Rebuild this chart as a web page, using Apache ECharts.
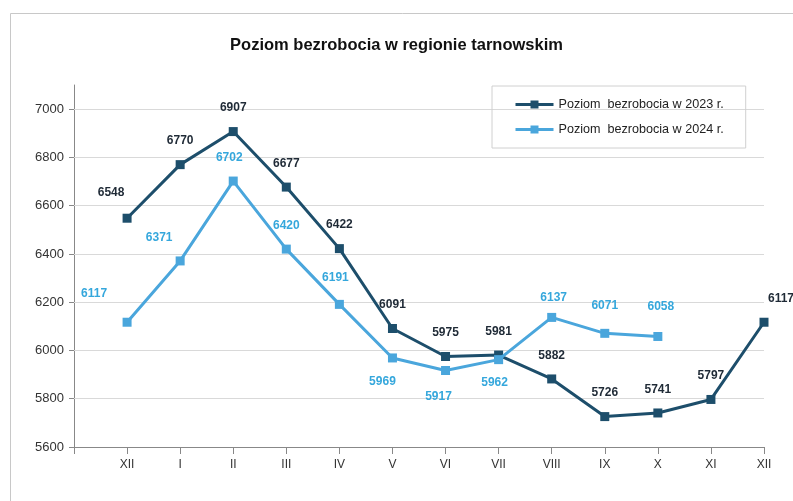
<!DOCTYPE html>
<html><head><meta charset="utf-8">
<script src="https://cdn.jsdelivr.net/npm/echarts@6/dist/echarts.min.js"></script>
<style>html,body{margin:0;padding:0;background:#fff}#c{width:793px;height:501px}</style>
</head><body><div id="c"></div>
<script>
var categories = ['', 'XII', 'I', 'II', 'III', 'IV', 'V', 'VI', 'VII', 'VIII', 'IX', 'X', 'XI', 'XII'];
var values2023 = [null, 6548, 6770, 6907, 6677, 6422, 6091, 5975, 5981, 5882, 5726, 5741, 5797, 6117];
var values2024 = [null, 6117, 6371, 6702, 6420, 6191, 5969, 5917, 5962, 6137, 6071, 6058, null, null];
var yTicks = [5800, 6000, 6200, 6400, 6600, 6800, 7000];
var name2023 = 'Poziom  bezrobocia w 2023 r.';
var name2024 = 'Poziom  bezrobocia w 2024 r.';

var c2023 = '#1d4e6b', c2024 = '#4aa6dc';
var font = '"Liberation Sans", Arial, sans-serif';

var off2023 = {1: [-16, -2], 13: [17, 0]};
var lab2024 = {
  1: {offset: [-33, -5]}, 2: {offset: [-21, 0]}, 3: {offset: [-4, 0]}, 5: {offset: [-4, -3]},
  6: {position: 'bottom', offset: [-10, 0]}, 7: {position: 'bottom', offset: [-7, 3]},
  8: {position: 'bottom', offset: [-4, 0]}, 9: {offset: [2, 4]}, 10: {offset: [0, -4]}, 11: {offset: [3, -6]}
};

var d2023 = values2023.map(function (v, i) {
  return off2023[i] ? {value: v, label: {offset: off2023[i]}} : v;
});
var d2024 = values2024.map(function (v, i) {
  return lab2024[i] ? {value: v, label: lab2024[i]} : v;
});

var chart = echarts.init(document.getElementById('c'), null, {renderer: 'canvas'});
chart.setOption({
  animation: false,
  backgroundColor: '#fff',
  textStyle: {fontFamily: font},
  title: {
    text: 'Poziom bezrobocia w regionie tarnowskim',
    left: 'center', top: 32,
    textStyle: {fontSize: 16.5, fontWeight: 'bold', color: '#111', fontFamily: font}
  },
  graphic: [{
    type: 'rect', left: 8, top: 11, silent: true,
    shape: {width: 800, height: 500},
    style: {fill: 'none', stroke: '#c8c8c8', lineWidth: 1}
  }],
  legend: {
    orient: 'vertical', left: 492, top: 86,
    padding: [12, 22, 12, 22], itemGap: 12,
    borderColor: '#d0d0d0', borderWidth: 1,
    itemWidth: 38, itemHeight: 10,
    lineStyle: {width: 3},
    textStyle: {fontSize: 12.6, color: '#222', fontFamily: font},
    data: [name2023, name2024]
  },
  grid: {left: 74, right: 29, top: 85, bottom: 54, containLabel: false},
  xAxis: {
    type: 'category', data: categories, boundaryGap: false,
    axisLine: {lineStyle: {color: '#888', width: 1}},
    axisTick: {show: true, length: 7, lineStyle: {color: '#888'}},
    axisLabel: {color: '#333', fontSize: 12, margin: 12, interval: 0}
  },
  yAxis: {
    type: 'value', min: 5600, max: 7100, interval: 200,
    axisLine: {show: true, lineStyle: {color: '#888', width: 1}},
    axisTick: {show: true, length: 5, lineStyle: {color: '#888'}},
    splitLine: {show: false},
    axisLabel: {color: '#333', fontSize: 13, margin: 10, showMaxLabel: false,
      formatter: function (v) { return String(v); }}
  },
  series: [{
    name: name2023, type: 'line', data: d2023,
    color: c2023, symbol: 'rect', symbolSize: 9,
    lineStyle: {width: 3, color: c2023}, itemStyle: {color: c2023},
    z: 3,
    label: {show: true, position: 'top', distance: 13, color: '#1f2a36', fontSize: 12, fontWeight: 'bold'},
    markLine: {
      silent: true, symbol: 'none', animation: false, z: 1,
      label: {show: false},
      lineStyle: {color: '#d9d9d9', width: 1, type: 'solid'},
      data: yTicks.map(function (t) { return {yAxis: t}; })
    }
  }, {
    name: name2024, type: 'line', data: d2024,
    color: c2024, symbol: 'rect', symbolSize: 9,
    lineStyle: {width: 3, color: c2024}, itemStyle: {color: c2024},
    z: 4,
    label: {show: true, position: 'top', distance: 13, color: '#35a7dc', fontSize: 12, fontWeight: 'bold'}
  }]
});
</script>
</body></html>
